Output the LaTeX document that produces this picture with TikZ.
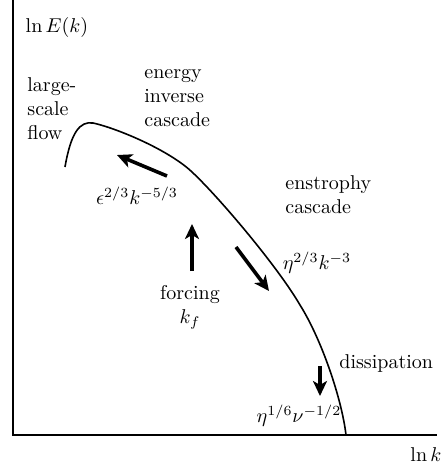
\documentclass[tikz,border=0pt]{standalone}
\usepackage{amsmath,amssymb}
\usetikzlibrary{arrows.meta,positioning}

\begin{document}
\begin{tikzpicture}[x=0.5pt,y=-0.5pt,every node/.style={font=\normalsize},
      lbl/.style={align=left,inner sep=0pt},
      flux/.style={-{Stealth[length=7.5pt,width=7pt,inset=2pt]},line width=1.8pt},
      axis/.style={line width=1pt},
      spectrum/.style={line width=0.8pt}]
    \useasboundingbox (0,0) rectangle (445,468);
    % Axes
    \coordinate (origin) at (13,435);
    \coordinate (ytop)   at (13,0);
    \coordinate (xend)   at (437,435);
    \draw[axis] (ytop)--(origin)--(xend);
    \node (ylab) at (57,27)   {$\ln E(k)$};
    \node (xlab) at (426,455) {$\ln k$};
    % Spectrum
    \draw[spectrum] (65,167) .. controls (71,132) and (80,121) .. (93,123)
                    .. controls (112,127) and (158,145) .. (185,166)
                    .. controls (205,181) and (275,262) .. (300,305)
                    .. controls (322,340) and (342,400) .. (346,435);
    % Regimes
    \node[lbl,anchor=west] (large)  at (27,109)  {large-\\scale\\flow};
    \node[lbl,anchor=west] (inv)    at (144,98)  {energy\\inverse\\cascade};
    \node[lbl,anchor=west] (enstr)  at (285,195) {enstrophy\\cascade};
    \node[lbl,anchor=west] (diss)   at (339,363) {dissipation};
    \node[lbl,align=center] (force) at (190,307) {forcing\\$k_f$};
    % Slopes
    \node (elaw)  at (137,196) {$\epsilon^{2/3}k^{-5/3}$};
    \node (etalaw) at (317,263) {$\eta^{2/3}k^{-3}$};
    \node (kdiss) at (299,416) {$\eta^{1/6}\nu^{-1/2}$};
    % Transfer arrows
    \coordinate (a1) at (167,176); \coordinate (b1) at (117,155);
    \coordinate (a2) at (192,271); \coordinate (b2) at (192,224);
    \coordinate (a3) at (236,247); \coordinate (b3) at (269,291);
    \coordinate (a4) at (320,366); \coordinate (b4) at (320,396);
    \draw[flux] (a1)--(b1);
    \draw[flux] (a2)--(b2);
    \draw[flux] (a3)--(b3);
    \draw[flux] (a4)--(b4);
  \end{tikzpicture}
\end{document}
